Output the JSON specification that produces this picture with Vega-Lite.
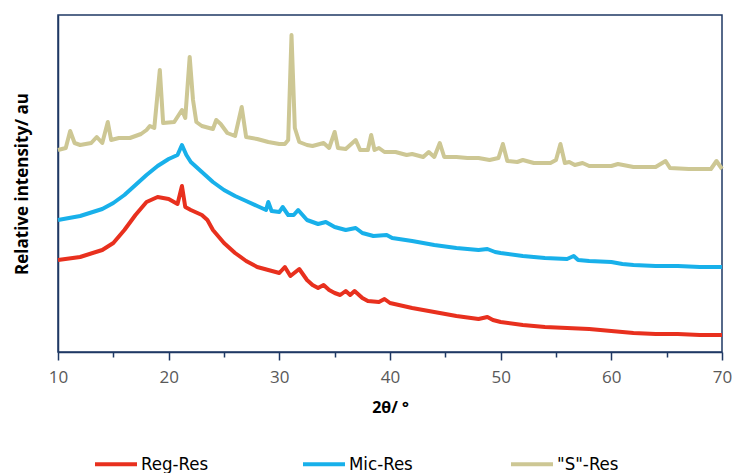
{
  "$schema": "https://vega.github.io/schema/vega-lite/v6.json",
  "width": 664,
  "height": 337,
  "autosize": {"type": "none"},
  "padding": {"left": 58, "top": 15, "right": 16, "bottom": 121},
  "background": "white",
  "config": {
    "view": {"stroke": "#1f3864", "strokeWidth": 1.5},
    "axis": {"grid": false}
  },
  "datasets": {
    "reg": [
      {"t":10,"v":92},{"t":12,"v":95},{"t":14,"v":102},{"t":15,"v":109},{"t":16,"v":122},{"t":17,"v":137},{"t":18,"v":150},{"t":19,"v":155},{"t":20,"v":153},{"t":20.8,"v":148},{"t":21.2,"v":166},{"t":21.5,"v":145},{"t":22,"v":142},{"t":23,"v":137},{"t":23.5,"v":132},{"t":24,"v":122},{"t":25,"v":109},{"t":26,"v":99},{"t":27,"v":91},{"t":28,"v":85},{"t":29,"v":82},{"t":30,"v":79},{"t":30.5,"v":85},{"t":31,"v":76},{"t":31.8,"v":83},{"t":32.5,"v":72},{"t":33,"v":67},{"t":33.5,"v":64},{"t":34,"v":67},{"t":34.5,"v":62},{"t":35,"v":59},{"t":35.5,"v":57},{"t":36,"v":61},{"t":36.4,"v":57},{"t":36.8,"v":61},{"t":37.5,"v":54},{"t":38,"v":51},{"t":39,"v":50},{"t":39.5,"v":53},{"t":40,"v":49},{"t":42,"v":44},{"t":44,"v":40},{"t":46,"v":36},{"t":48,"v":33},{"t":48.8,"v":35},{"t":49.3,"v":32},{"t":50,"v":30},{"t":52,"v":27},{"t":54,"v":25},{"t":56,"v":24},{"t":58,"v":23},{"t":60,"v":21},{"t":62,"v":19},{"t":64,"v":18},{"t":66,"v":18},{"t":68,"v":17},{"t":70,"v":17}
    ],
    "mic": [
      {"t":10,"v":132},{"t":12,"v":136},{"t":14,"v":143},{"t":15,"v":149},{"t":16,"v":157},{"t":17,"v":167},{"t":18,"v":177},{"t":19,"v":186},{"t":20,"v":193},{"t":20.8,"v":197},{"t":21.2,"v":207},{"t":21.6,"v":197},{"t":22,"v":190},{"t":23,"v":180},{"t":24,"v":170},{"t":25,"v":162},{"t":26,"v":156},{"t":27,"v":151},{"t":28,"v":146},{"t":28.8,"v":142},{"t":29,"v":150},{"t":29.3,"v":141},{"t":30,"v":140},{"t":30.3,"v":145},{"t":30.8,"v":137},{"t":31.3,"v":137},{"t":31.7,"v":142},{"t":32.5,"v":132},{"t":33.5,"v":128},{"t":34.2,"v":130},{"t":35,"v":125},{"t":36,"v":122},{"t":36.9,"v":124},{"t":37.5,"v":119},{"t":38.5,"v":116},{"t":39.7,"v":117},{"t":40.2,"v":114},{"t":42,"v":111},{"t":44,"v":107},{"t":46,"v":104},{"t":48,"v":102},{"t":48.8,"v":103},{"t":49.5,"v":100},{"t":50,"v":99},{"t":52,"v":96},{"t":54,"v":94},{"t":56,"v":93},{"t":56.6,"v":96},{"t":57,"v":92},{"t":58,"v":91},{"t":60,"v":90},{"t":61,"v":88},{"t":62,"v":87},{"t":64,"v":86},{"t":66,"v":86},{"t":68,"v":85},{"t":70,"v":85}
    ],
    "sres": [
      {"t":10,"v":202},{"t":10.7,"v":204},{"t":11.1,"v":221},{"t":11.5,"v":209},{"t":12,"v":207},{"t":13,"v":209},{"t":13.5,"v":215},{"t":14,"v":209},{"t":14.5,"v":230},{"t":14.8,"v":212},{"t":15.5,"v":214},{"t":16.5,"v":214},{"t":17.5,"v":218},{"t":18,"v":222},{"t":18.3,"v":226},{"t":18.7,"v":224},{"t":19.2,"v":282},{"t":19.5,"v":229},{"t":20.5,"v":230},{"t":21.2,"v":242},{"t":21.5,"v":234},{"t":21.9,"v":295},{"t":22.2,"v":252},{"t":22.5,"v":230},{"t":23,"v":226},{"t":24,"v":223},{"t":24.3,"v":232},{"t":24.7,"v":228},{"t":25.3,"v":219},{"t":26,"v":216},{"t":26.6,"v":245},{"t":27,"v":215},{"t":28,"v":213},{"t":29,"v":210},{"t":30,"v":208},{"t":30.5,"v":208},{"t":30.8,"v":212},{"t":31.1,"v":317},{"t":31.4,"v":224},{"t":31.8,"v":210},{"t":32.5,"v":207},{"t":33,"v":206},{"t":34,"v":209},{"t":34.5,"v":204},{"t":35,"v":220},{"t":35.3,"v":204},{"t":36,"v":203},{"t":36.9,"v":212},{"t":37.3,"v":202},{"t":38,"v":202},{"t":38.3,"v":217},{"t":38.6,"v":202},{"t":39,"v":204},{"t":39.5,"v":200},{"t":40.5,"v":200},{"t":41.5,"v":197},{"t":42,"v":198},{"t":43,"v":195},{"t":43.5,"v":200},{"t":44,"v":195},{"t":44.5,"v":209},{"t":44.9,"v":195},{"t":46,"v":195},{"t":47,"v":194},{"t":48,"v":194},{"t":49,"v":192},{"t":49.8,"v":194},{"t":50.2,"v":208},{"t":50.6,"v":191},{"t":51.5,"v":190},{"t":52,"v":192},{"t":53,"v":189},{"t":54.5,"v":189},{"t":55,"v":192},{"t":55.4,"v":208},{"t":55.8,"v":189},{"t":56.2,"v":190},{"t":56.7,"v":187},{"t":57.4,"v":189},{"t":58,"v":186},{"t":60,"v":186},{"t":60.6,"v":188},{"t":62,"v":185},{"t":64,"v":185},{"t":64.9,"v":191},{"t":65.3,"v":184},{"t":67,"v":183},{"t":69,"v":183},{"t":69.5,"v":191},{"t":70,"v":183}
    ]
  },
  "layer": [
    {
      "data": {"name": "sres"},
      "transform": [{"calculate": "'\"S\"-Res'", "as": "series"}],
      "mark": {"type": "line", "strokeWidth": 4, "strokeJoin": "round"},
      "encoding": {
        "x": {"field": "t", "type": "quantitative"},
        "y": {"field": "v", "type": "quantitative"},
        "color": {"field": "series", "type": "nominal"}
      }
    },
    {
      "data": {"name": "mic"},
      "transform": [{"calculate": "'Mic-Res'", "as": "series"}],
      "mark": {"type": "line", "strokeWidth": 4, "strokeJoin": "round"},
      "encoding": {
        "x": {"field": "t", "type": "quantitative"},
        "y": {"field": "v", "type": "quantitative"},
        "color": {"field": "series", "type": "nominal"}
      }
    },
    {
      "data": {"name": "reg"},
      "transform": [{"calculate": "'Reg-Res'", "as": "series"}],
      "mark": {"type": "line", "strokeWidth": 4, "strokeJoin": "round"},
      "encoding": {
        "x": {
          "field": "t", "type": "quantitative",
          "scale": {"domain": [10, 70], "nice": false, "zero": false},
          "axis": {
            "title": "2θ/ °",
            "values": [10,15,20,25,30,35,40,45,50,55,60,65,70],
            "labelExpr": "datum.value % 10 === 0 ? datum.label : ''",
            "domainColor": "#1f3864", "domainWidth": 1.5,
            "tickColor": "#1f3864", "tickWidth": 1.5,
            "tickSize": {"condition": {"test": "datum.value % 10 === 0", "value": 8}, "value": 5},
            "labelColor": "#595959", "labelFont": "Open Sans", "labelFontSize": 17,
            "labelPadding": 9, "labelFlush": false,
            "titleFont": "Open Sans", "titleFontSize": 16, "titleFontWeight": "bold", "titleColor": "#000000",
            "titlePadding": 14
          }
        },
        "y": {
          "field": "v", "type": "quantitative",
          "scale": {"domain": [0, 337], "nice": false},
          "axis": {
            "title": "Relative intensity/ au",
            "labels": false, "ticks": false,
            "domainColor": "#1f3864", "domainWidth": 1.5,
            "titleFont": "Open Sans", "titleFontSize": 17, "titleFontWeight": "bold", "titleColor": "#000000",
            "titlePadding": 27
          }
        },
        "color": {
          "field": "series", "type": "nominal",
          "scale": {"domain": ["Reg-Res", "Mic-Res", "\"S\"-Res"], "range": ["#e8301e", "#18b0ea", "#cdc794"]},
          "legend": {
            "title": null,
            "orient": "none",
            "legendX": 35,
            "legendY": 426,
            "direction": "horizontal",
            "columns": 3,
            "gridAlign": "all",
            "columnPadding": 86,
            "symbolType": "stroke",
            "symbolSize": 1764,
            "symbolStrokeWidth": 4,
            "labelOffset": 2,
            "labelFont": "'DejaVu Sans Condensed', 'Liberation Sans', sans-serif",
            "labelFontSize": 18.5,
            "labelColor": "#000000",
            "labelLimit": 200
          }
        }
      }
    }
  ]
}
